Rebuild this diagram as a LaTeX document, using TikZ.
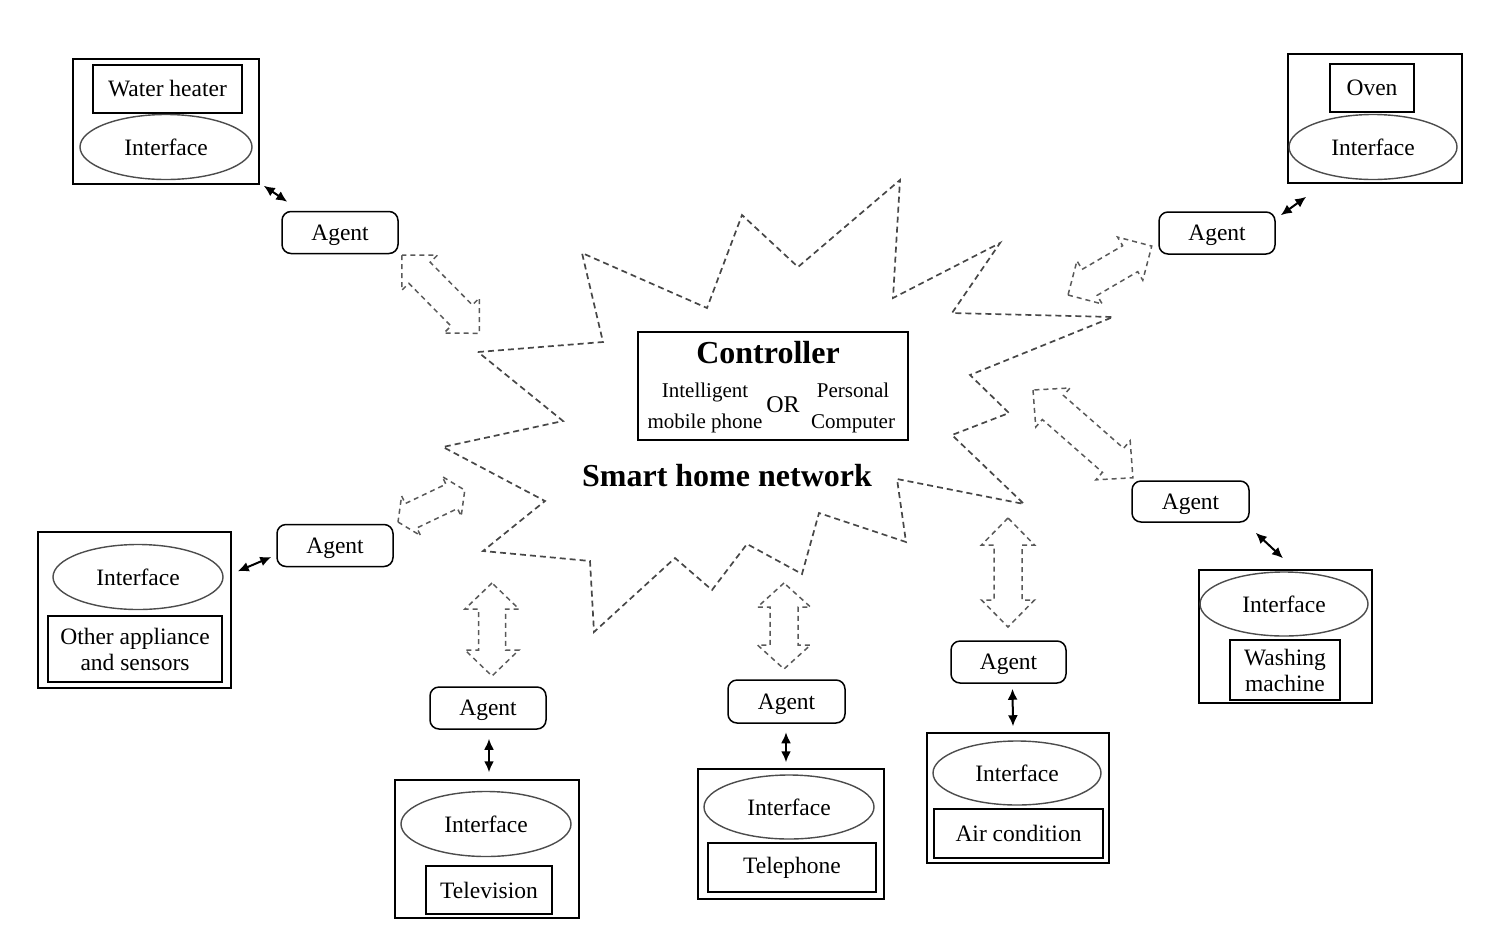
\documentclass[tikz,border=0pt]{standalone}
\usepackage{fontspec}
\setmainfont{Liberation Serif}
\usepackage{tikz}
\usetikzlibrary{arrows.meta,shapes.geometric}

\begin{document}
\begin{tikzpicture}[
    x=1pt, y=-1pt,
    font=\fontsize{23.5}{26}\selectfont,
    agent/.style={draw, rounded corners=9pt, line width=1.5pt, inner sep=0pt, text depth=0pt,
                  minimum width=116pt, minimum height=42pt},
    device/.style={draw, line width=1.5pt, inner sep=0pt},
    appliance/.style={draw, line width=1.5pt, inner sep=0pt, align=center},
    iface/.style={ellipse, draw=black!70, line width=1.4pt, inner sep=0pt,
                  minimum width=170pt, minimum height=65pt},
    link/.style={{Latex[length=11pt,width=10pt]}-{Latex[length=11pt,width=10pt]}, line width=2pt},
    burst/.style={draw=black!72, line width=1.7pt, dash pattern=on 6pt off 4pt, line join=miter},
    hollow/.style={draw=black!65, line width=1.5pt, dash pattern=on 5pt off 4pt},
    pics/dualarrow/.style n args={4}{code={
        \draw[hollow] (0,0) -- (#2,#3) -- (#2,#4) -- (#1-#2,#4) -- (#1-#2,#3) -- (#1,0)
            -- (#1-#2,-#3) -- (#1-#2,-#4) -- (#2,-#4) -- (#2,-#3) -- cycle;}},
    heading/.style={font=\bfseries\fontsize{32}{36}\selectfont},
    sub/.style={font=\fontsize{21}{31}\selectfont, align=center}
]
\useasboundingbox (0,0) rectangle (1510,938);

% Network cloud drawn as a dashed burst
\draw[burst] (478,352) -- (603,342) -- (582,253) -- (707,308) -- (742,215) -- (798,267)
  -- (900,180) -- (893,298) -- (1000,243) -- (952,313) -- (1113,317) -- (970,375)
  -- (1009,413) -- (952,435) -- (1024,504) -- (897,479) -- (906,542) -- (819,513)
  -- (802,574) -- (747,544) -- (712,590) -- (675,558) -- (594,632) -- (590,561)
  -- (483,551) -- (545,501) -- (443,447) -- (563,421) -- cycle;

% Controller in the middle
\node[device, minimum width=270pt, minimum height=108pt] (ctrl) at (773,386) {};
\node[heading] (ctrltitle) at (768,353) {Controller};
\node[sub] (phone) at (705,408) {Intelligent\\mobile phone};
\node[font=\fontsize{24}{26}\selectfont] (or) at (783,405) {OR};
\node[sub] (pc) at (853,408) {Personal\\Computer};
\node[heading] (net) at (727,476) {Smart home network};

% Water heater
\node[device, minimum width=186pt, minimum height=125pt] (whbox) at (166,121.5) {};
\node[appliance, minimum width=149pt, minimum height=48pt] (whname) at (167.5,89) {Water heater};
\node[iface, minimum width=172pt] (whif) at (166,147) {Interface};
\node[agent] (whagent) at (340,232.5) {Agent};
\draw[link] ([shift={(4,1)}]whbox.south east) -- ([shift={(6,-9)}]whagent.north west);

% Oven
\node[device, minimum width=174pt, minimum height=129pt] (ovbox) at (1375,118.5) {};
\node[appliance, minimum width=84pt, minimum height=48pt] (ovname) at (1372,88) {Oven};
\node[iface, minimum width=168pt] (ovif) at (1373,147) {Interface};
\node[agent] (ovagent) at (1217,233) {Agent};
\draw[link] ([shift={(5,4)}]ovagent.north east) -- ([shift={(19,13)}]ovbox.south west);

% Other appliance and sensors
\node[device, minimum width=193pt, minimum height=156pt] (otbox) at (134.5,610) {};
\node[iface] (otif) at (138,577) {Interface};
\node[appliance, minimum width=174pt, minimum height=66pt] (otname) at (135,649) {Other appliance\\and sensors};
\node[agent] (otagent) at (335,545.5) {Agent};
\draw[link] ([shift={(6,40)}]otbox.north east) -- ([shift={(-5,11.5)}]otagent.west);

% Television
\node[agent] (tvagent) at (488,708) {Agent};
\node[device, minimum width=184pt, minimum height=138pt] (tvbox) at (487,849) {};
\node[iface] (tvif) at (486,824) {Interface};
\node[appliance, minimum width=126pt, minimum height=48pt] (tvname) at (489,890) {Television};
\draw[link] ([shift={(1,9)}]tvagent.south) -- ([shift={(2,-7)}]tvbox.north);

% Telephone
\node[agent, minimum width=117pt, minimum height=43pt] (tpagent) at (786.5,701.5) {Agent};
\node[device, minimum width=186pt, minimum height=130pt] (tpbox) at (791,834) {};
\node[iface, minimum height=64pt] (tpif) at (789,807) {Interface};
\node[appliance, minimum width=168pt, minimum height=49pt] (tpname) at (792,867.5) {Telephone};
\draw[link] ([shift={(-0.5,8.5)}]tpagent.south) -- ([shift={(-5,-6)}]tpbox.north);

% Air condition
\node[agent, minimum width=115pt] (acagent) at (1008.5,662) {Agent};
\node[device, minimum width=182pt, minimum height=130pt] (acbox) at (1018,798) {};
\node[iface, minimum width=168pt, minimum height=64pt] (acif) at (1017,773) {Interface};
\node[appliance, minimum width=169pt, minimum height=49pt] (acname) at (1018.5,833.5) {Air condition};
\draw[link] ([shift={(4,5)}]acagent.south) -- ([shift={(-5,-6)}]acbox.north);

% Washing machine
\node[agent, minimum width=117pt, minimum height=41pt] (wmagent) at (1190.5,501.5) {Agent};
\node[device, minimum width=173pt, minimum height=133pt] (wmbox) at (1285.5,636.5) {};
\node[iface, minimum width=168pt, minimum height=64pt] (wmif) at (1284,604) {Interface};
\node[appliance, minimum width=110pt, minimum height=60pt] (wmname) at (1285,670) {Washing\\machine};
\draw[link] ([shift={(6,10)}]wmagent.south east) -- ([shift={(-2.5,-11)}]wmbox.north);

% Dashed links between agents and the network
\pic[rotate=-45.4] at (402,255) {dualarrow={110}{25}{25}{15}};
\pic[rotate=30.3] at (1068,295) {dualarrow={97}{25}{25}{15}};
\pic[rotate=25.5] at (398,522) {dualarrow={74}{14.5}{22}{13.5}};
\pic[rotate=-41.3] at (1033,390) {dualarrow={133}{26.5}{26}{16}};
\pic[rotate=-90] at (492,583) {dualarrow={93}{26}{27}{13.5}};
\pic[rotate=-90] at (784,583) {dualarrow={86}{24}{26.5}{14}};
\pic[rotate=-90] at (1008,518) {dualarrow={109}{27}{26.5}{14}};

\end{tikzpicture}
\end{document}
